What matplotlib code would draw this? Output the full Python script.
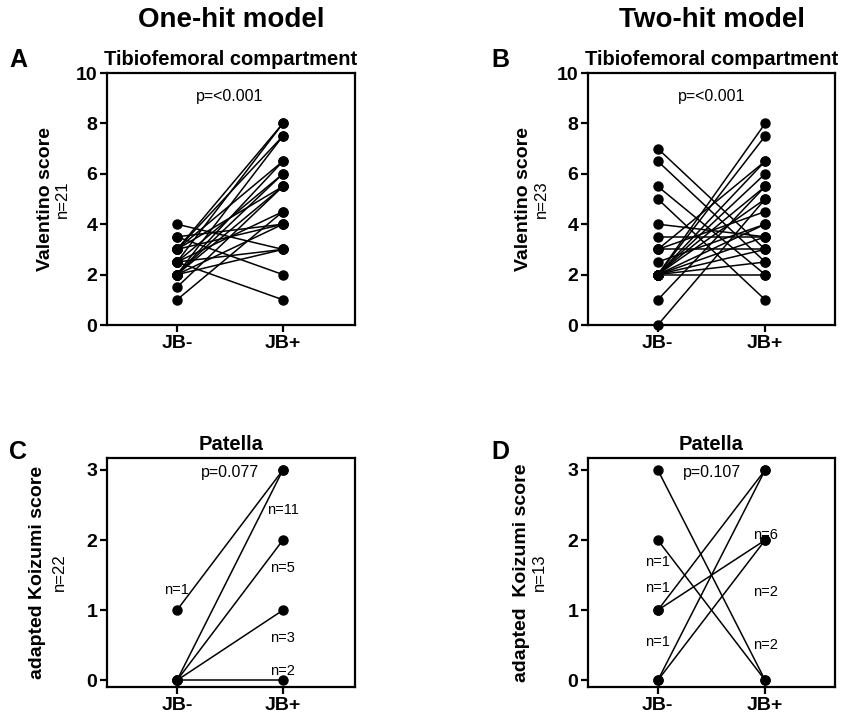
import matplotlib.pyplot as plt

plt.rcParams['font.family'] = ['Liberation Sans', 'DejaVu Sans']

# Panel A: one-hit, tibiofemoral (n=21)
a_pre = [4, 3.5, 3, 3, 3, 3, 2.5, 2.5, 2.5, 2.5, 2, 2, 2, 2, 2, 1.5, 1, 3.5, 3, 2.5, 2]
a_post = [3, 2, 8, 7.5, 6.5, 4, 1, 8, 6, 4.5, 7.5, 5.5, 4, 3, 6.5, 5.5, 4.5, 4, 5.5, 3, 6]

# Panel B: two-hit, tibiofemoral (n=23)
b_pre = [7, 6.5, 5.5, 5, 4, 3.5, 3, 3, 2.5,
         2, 2, 2, 2, 2, 2, 2, 2, 2, 2, 2, 1, 0, 3]
b_post = [3, 2.5, 2, 1, 3.5, 3.5, 3, 4.5, 4,
          8, 7.5, 6.5, 6, 5.5, 5, 4, 3.5, 3, 2.5, 2, 5.5, 5, 6.5]

# Panel C: one-hit, patella (n=22)
c_pre = [1, 0, 0, 0, 0]
c_post = [3, 3, 2, 1, 0]
c_labels = ["n=1", "n=11", "n=5", "n=3", "n=2"]
c_label_pos = [(0, 1.29), (1, 2.43), (1, 1.6), (1, 0.61), (1, 0.14)]

# Panel D: two-hit, patella (n=13)
d_pre = [3, 2, 1, 1, 0, 0]
d_post = [0, 0, 3, 2, 3, 2]
d_labels = ["n=1", "n=1", "n=1", "n=6", "n=2", "n=2"]
d_label_pos = [(0, 1.69), (0, 1.31), (0, 0.54), (1, 2.07), (1, 1.26), (1, 0.5)]

xcats = ["JB-", "JB+"]

fig = plt.figure(figsize=(8.44, 7.21), dpi=100)
W, H = 844, 721


def make_ax(l, t, r, b):
    return fig.add_axes([l / W, (H - b) / H, (r - l) / W, (b - t) / H])


def style(ax, xlim, ylim, yticks):
    ax.set_xlim(*xlim)
    ax.set_ylim(*ylim)
    ax.set_xticks([0, 1])
    ax.set_xticklabels(xcats, fontweight="bold", fontsize=14)
    ax.set_yticks(yticks)
    ax.set_yticklabels([str(v) for v in yticks], fontweight="bold", fontsize=14)
    for s in ax.spines.values():
        s.set_linewidth(1.6)
    ax.tick_params(direction="out", width=1.6, length=5, pad=2)


def pairs(ax, pre, post):
    for y0, y1 in zip(pre, post):
        ax.plot([0, 1], [y0, y1], color="black", lw=1.1, marker="o",
                markersize=6.5, clip_on=False, zorder=3)


axA = make_ax(107, 73, 355, 325)
axB = make_ax(588, 73, 835, 325)
axC = make_ax(107, 458, 355, 687)
axD = make_ax(588, 458, 835, 687)

pairs(axA, a_pre, a_post)
pairs(axB, b_pre, b_post)
pairs(axC, c_pre, c_post)
pairs(axD, d_pre, d_post)

style(axA, (-0.66, 1.68), (0, 10), [0, 2, 4, 6, 8, 10])
style(axB, (-0.65, 1.65), (0, 10), [0, 2, 4, 6, 8, 10])
style(axC, (-0.66, 1.68), (-0.095, 3.17), [0, 1, 2, 3])
style(axD, (-0.65, 1.65), (-0.095, 3.17), [0, 1, 2, 3])

for ax, lab, pos in [(axC, c_labels, c_label_pos), (axD, d_labels, d_label_pos)]:
    for t, (x, y) in zip(lab, pos):
        ax.text(x, y, t, ha="center", va="center", fontsize=10.5)

for ax, p, y in [(axA, "p=<0.001", 9.05), (axB, "p=<0.001", 9.05),
                 (axC, "p=0.077", 2.96), (axD, "p=0.107", 2.96)]:
    ax.text(0.5, y, p, ha="center", va="center", fontsize=11.5)

for ax in (axA, axB):
    ax.set_title("Tibiofemoral compartment", fontweight="bold", fontsize=14.5, pad=6)
for ax in (axC, axD):
    ax.set_title("Patella", fontweight="bold", fontsize=14.5, pad=6)

# y labels: bold name + small n
for ax, name, n, xn, xc in [(axA, "Valentino score", "n=21", -0.25, -0.18),
                            (axB, "Valentino score", "n=23", -0.26, -0.19),
                            (axC, "adapted Koizumi score", "n=22", -0.28, -0.19),
                            (axD, "adapted  Koizumi score", "n=13", -0.27, -0.195)]:
    ax.text(xn, 0.5, name, transform=ax.transAxes, rotation=90, ha="center",
            va="center", fontweight="bold", fontsize=14)
    ax.text(xc, 0.5, n, transform=ax.transAxes, rotation=90, ha="center",
            va="center", fontsize=12)

fig.text(231 / W, 1 - 20 / H, "One-hit model", ha="center", va="center",
         fontweight="bold", fontsize=20)
fig.text(712 / W, 1 - 20 / H, "Two-hit model", ha="center", va="center",
         fontweight="bold", fontsize=20)

for lbl, x, y in [("A", 18, 60), ("B", 500, 60), ("C", 18, 452), ("D", 500, 452)]:
    fig.text(x / W, 1 - y / H, lbl, ha="center", va="center", fontweight="bold", fontsize=18)

fig.savefig("out.png", dpi=100)
